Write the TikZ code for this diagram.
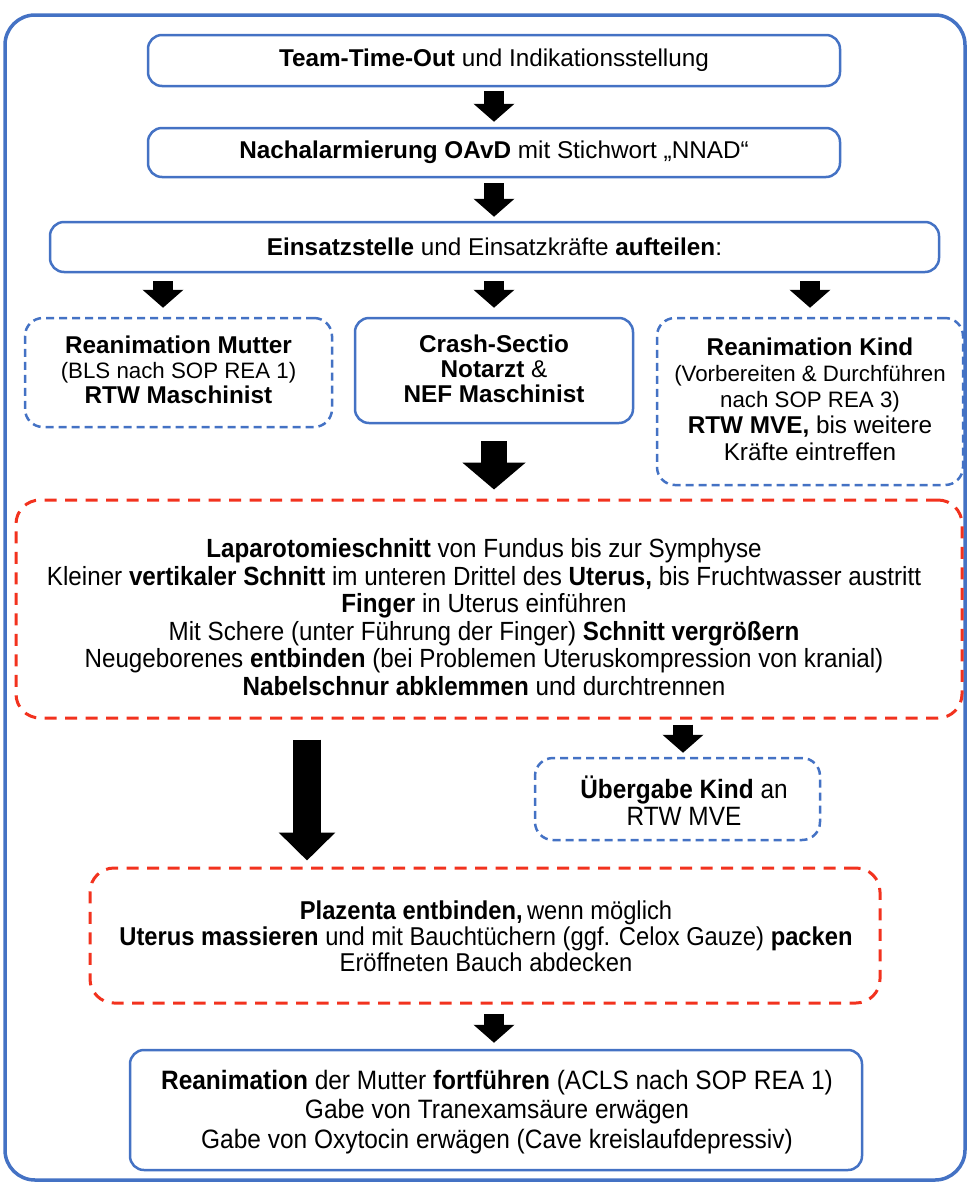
\documentclass[tikz,border=0pt]{standalone}
\usepackage{fontspec}
\setmainfont{Liberation Sans}
\newfontfamily\cond[FakeStretch=0.92]{Liberation Sans}
\usetikzlibrary{arrows.meta}
\definecolor{bl}{RGB}{68,114,196}
\definecolor{rd}{RGB}{242,50,30}
\newcommand{\smallpar}[1]{{\fontsize{22.3}{25}\selectfont #1}}
\begin{document}
\begin{tikzpicture}[x=1pt,y=-1pt,
  box/.style={draw=bl, line width=2.5pt, rounded corners=14pt, align=center, inner sep=0pt,
    font=\fontsize{24.3}{25}\selectfont},
  dbox/.style={box, rounded corners=18pt, dash pattern=on 8pt off 5pt},
  rbox/.style={draw=rd, line width=3pt, rounded corners=24pt, dash pattern=on 12pt off 8.5pt,
    inner sep=0pt},
  txt/.style={align=center, inner sep=0pt},
  barrow/.style={line width=20pt, -{Triangle[width=40pt,length=18pt]}},
  bigarrow/.style={line width=26pt, -{Triangle[width=62pt,length=27pt]}},
  longarrow/.style={line width=28pt, -{Triangle[width=55pt,length=28pt]}}
]
\useasboundingbox (0,0) rectangle (968,1184);
\node[draw=bl, line width=3.5pt, rounded corners=30pt, minimum width=960pt, minimum height=1165pt, inner sep=0pt] (frame) at (485,597.5) {};

\node[box, minimum width=692pt, minimum height=51pt] (b1) at (494,60.5)
  {\textbf{Team-Time-Out} und Indikationsstellung};
\node[box, minimum width=692pt, minimum height=49pt] (b2) at (494,152.5)
  {\textbf{Nachalarmierung OAvD} mit Stichwort „NNAD“};
\node[box, minimum width=889pt, minimum height=50pt] (b3) at (494.5,247)
  {\textbf{Einsatzstelle} und Einsatzkräfte \textbf{aufteilen}:};

\node[dbox, minimum width=307pt, minimum height=109pt] (mut) at (178.5,372.5) {};
\node[txt, font=\fontsize{24.3}{25}\selectfont] (mutt) at (178.5,370)
  {\textbf{Reanimation Mutter}\\\smallpar{(BLS nach SOP REA 1)}\\\textbf{RTW Maschinist}};
\node[box, minimum width=278pt, minimum height=105pt] (crash) at (494,370.5) {};
\node[txt, font=\fontsize{24.3}{25}\selectfont] (crasht) at (494,368.5)
  {\textbf{Crash-Sectio}\\\textbf{Notarzt} \&\\\textbf{NEF Maschinist}};
\node[dbox, minimum width=306pt, minimum height=167pt] (kind) at (810,401.5) {};
\node[txt, font=\fontsize{24.3}{26.2}\selectfont] (kindt) at (810,399)
  {\textbf{Reanimation Kind}\\\smallpar{(Vorbereiten \& Durchführen}\\\smallpar{nach SOP REA 3)}\\\textbf{RTW MVE,} bis weitere\\Kräfte eintreffen};

\node[rbox, minimum width=946pt, minimum height=218pt] (r1) at (489,609) {};
\node[txt, font=\cond\fontsize{26.3}{27.6}\selectfont] (r1t) at (484,617)
  {\textbf{Laparotomieschnitt} von Fundus bis zur Symphyse\\
   Kleiner \textbf{vertikaler Schnitt} im unteren Drittel des \textbf{Uterus,} bis Fruchtwasser austritt\\
   \textbf{Finger} in Uterus einführen\\
   Mit Schere (unter Führung der Finger) \textbf{Schnitt vergrößern}\\
   Neugeborenes \textbf{entbinden} (bei Problemen Uteruskompression von kranial)\\
   \textbf{Nabelschnur abklemmen} und durchtrennen};

\node[dbox, minimum width=285pt, minimum height=82pt] (ueb) at (677.5,799) {};
\node[txt, font=\cond\fontsize{26.5}{27}\selectfont] (uebt) at (684,801)
  {\textbf{Übergabe Kind} an\\RTW MVE};

\node[rbox, minimum width=790pt, minimum height=135pt] (r2) at (485,935.5) {};
\node[txt, font=\cond\fontsize{25.8}{26}\selectfont] (r2t) at (486,936)
  {\textbf{Plazenta entbinden,}\,wenn möglich\\
   \textbf{Uterus massieren} und mit Bauchtüchern (ggf. Celox Gauze) \textbf{packen}\\
   Eröffneten Bauch abdecken};

\node[box, minimum width=732pt, minimum height=120pt] (fin) at (496,1110) {};
\node[txt, font=\cond\fontsize{26.6}{29.5}\selectfont] (fint) at (497,1112)
  {\textbf{Reanimation} der Mutter \textbf{fortführen} (ACLS nach SOP REA 1)\\
   Gabe von Tranexamsäure erwägen\\
   Gabe von Oxytocin erwägen (Cave kreislaufdepressiv)};

\coordinate (xa) at (494,0);
\coordinate (xl) at (163,0);
\coordinate (xr) at (810,0);
\coordinate (xu) at (683,0);
\coordinate (xlong) at (307,0);

\draw[barrow, shorten <=4pt, shorten >=5pt] (b1.south -| xa) -- (b2.north -| xa);
\draw[barrow, shorten <=5pt, shorten >=4pt] (b2.south -| xa) -- (b3.north -| xa);
\draw[barrow, shorten <=8pt, shorten >=9pt] (b3.south -| xl) -- (mut.north -| xl);
\draw[barrow, shorten <=8pt, shorten >=9pt] (b3.south -| xa) -- (crash.north -| xa);
\draw[barrow, shorten <=8pt, shorten >=9pt] (b3.south -| xr) -- (kind.north -| xr);
\draw[bigarrow, shorten <=17pt, shorten >=9pt] (crash.south -| xa) -- (r1.north -| xa);
\draw[barrow, shorten <=5pt, shorten >=4pt] (r1.south -| xu) -- (ueb.north -| xu);
\draw[longarrow, shorten <=20pt, shorten >=6pt] (r1.south -| xlong) -- (r2.north -| xlong);
\draw[barrow, shorten <=9pt, shorten >=6pt] (r2.south -| xa) -- (fin.north -| xa);
\end{tikzpicture}
\end{document}
